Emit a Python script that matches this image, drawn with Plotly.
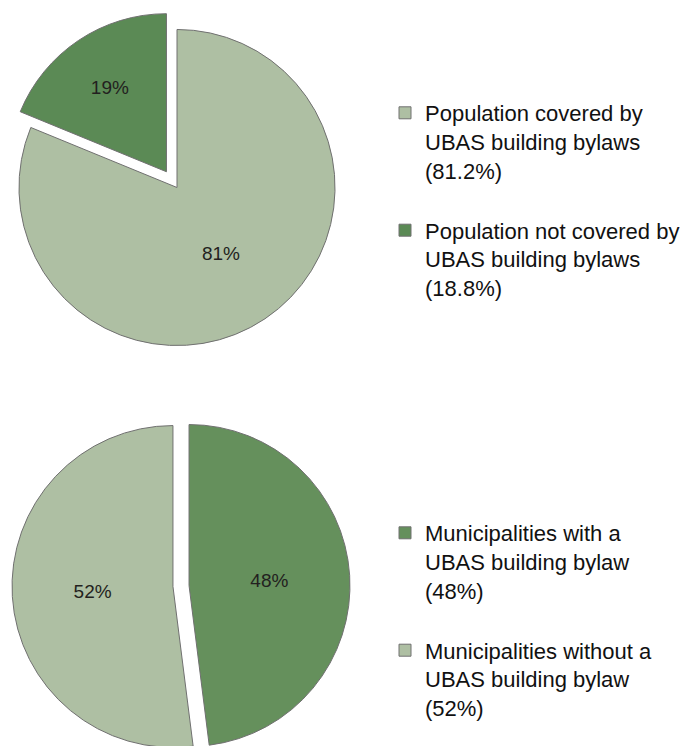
import plotly.graph_objects as go

# Top chart: population coverage
pop_labels = [
    "Population covered by<br>UBAS building bylaws<br>(81.2%)<br>\u00a0",
    "Population not covered by<br>UBAS building bylaws<br>(18.8%)<br>\u00a0",
]
pop_values = [81.2, 18.8]
pop_colors = ["#aebfa3", "#5b8a55"]
pop_pull = [0, 0.12]

# Bottom chart: municipalities
mun_labels = [
    "Municipalities with a<br>UBAS building bylaw<br>(48%)<br>\u00a0",
    "Municipalities without a<br>UBAS building bylaw<br>(52%)<br>\u00a0",
]
mun_values = [48, 52]
mun_colors = ["#65905c", "#aebfa3"]
mun_pull = [0.05, 0.05]

W, H = 692, 760
FONT = "Liberation Sans, Arial, Helvetica, sans-serif"


def dom_x(a, b):
    return [a / W, b / W]


def dom_y(top, bottom):
    return [1 - bottom / H, 1 - top / H]


fig = go.Figure()

fig.add_trace(go.Pie(
    labels=pop_labels, values=pop_values, sort=False, direction="clockwise",
    rotation=0, pull=pop_pull,
    marker=dict(colors=pop_colors, line=dict(color="#707070", width=1)),
    textposition="inside", insidetextorientation="horizontal",
    texttemplate="%{percent:.0%}",
    textfont=dict(size=19, color="#231f20", family=FONT),
    domain=dict(x=dom_x(0, 354), y=dom_y(10.5, 364.5)),
    legend="legend", hoverinfo="label+percent",
))

fig.add_trace(go.Pie(
    labels=mun_labels, values=mun_values, sort=False, direction="clockwise",
    rotation=0, pull=mun_pull,
    marker=dict(colors=mun_colors, line=dict(color="#707070", width=1)),
    textposition="inside", insidetextorientation="horizontal",
    texttemplate="%{percent:.0%}",
    textfont=dict(size=19, color="#231f20", family=FONT),
    domain=dict(x=dom_x(12, 350), y=dom_y(417, 755)),
    legend="legend2", hoverinfo="label+percent",
))

legend_common = dict(
    xanchor="left", yanchor="top", valign="top",
    bgcolor="rgba(0,0,0,0)",
    font=dict(size=22, color="#111111", family=FONT),
)

fig.update_layout(
    width=W, height=H,
    margin=dict(l=0, r=0, t=0, b=0, autoexpand=False),
    paper_bgcolor="white", plot_bgcolor="white",
    showlegend=True,
    legend=dict(x=385 / W, y=1 - 92 / H, **legend_common),
    legend2=dict(x=385 / W, y=1 - 512 / H, **legend_common),
)

fig.write_html("out.html", config={"displayModeBar": False},
               post_script="document.body.style.margin='0';")
